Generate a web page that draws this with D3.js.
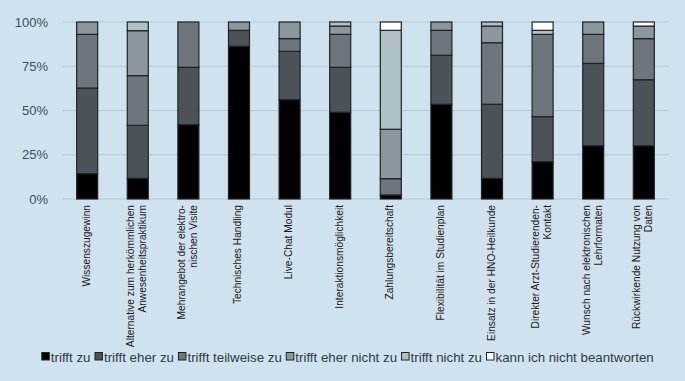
<!DOCTYPE html>
<html>
<head>
<meta charset="utf-8">
<script src="https://cdn.jsdelivr.net/npm/d3@7"></script>
<style>
  body { margin: 0; background: #d0e2ee; }
  svg { display: block; font-family: "Liberation Sans", Arial, sans-serif; }
</style>
</head>
<body>
<svg id="chart" width="685" height="381"></svg>
<script>
const categories = [
    ["Wissenszugewinn"],
    ["Alternative zum herkömmlichen", "Anwesenheitspraktikum"],
    ["Mehrangebot der elektro-", "nischen Visite"],
    ["Technisches Handling"],
    ["Live-Chat Modul"],
    ["Interaktionsmöglichkeit"],
    ["Zahlungsbereitschaft"],
    ["Flexibilität im Studienplan"],
    ["Einsatz in der HNO-Heilkunde"],
    ["Direkter Arzt-Studierenden-", "Kontakt"],
    ["Wunsch nach elektronischen", "Lehrformaten"],
    ["Rückwirkende Nutzung von", "Daten"]
];
const seriesNames = ["trifft zu", "trifft eher zu", "trifft teilweise zu", "trifft eher nicht zu", "trifft nicht zu", "kann ich nicht beantworten"];
const trifftZu      = [14.3, 11.7, 42.0, 86.3, 56.1, 49.0,  2.3, 53.5, 11.7, 21.1, 30.1, 30.1];
const eherZu        = [48.4, 29.9, 32.4,  9.0, 27.3, 25.4,  0.0, 27.7, 41.8, 25.4, 46.5, 37.3];
const teilweiseZu   = [30.3, 28.1, 25.6,  0.0,  7.2, 18.6,  9.2, 14.1, 34.8, 46.5, 16.4, 23.2];
const eherNichtZu   = [ 7.0, 25.4,  0.0,  4.7,  9.4,  4.7, 27.9,  4.7,  9.4,  0.0,  7.0,  7.1];
const nichtZu       = [ 0.0,  4.9,  0.0,  0.0,  0.0,  2.3, 55.9,  0.0,  2.3,  2.3,  0.0,  0.0];
const kannNicht     = [ 0.0,  0.0,  0.0,  0.0,  0.0,  0.0,  4.7,  0.0,  0.0,  4.7,  0.0,  2.3];
const yTicks = [0, 25, 50, 75, 100];

const colors = ["#000000", "#4b5258", "#6d767c", "#8b979e", "#b0c0c8", "#ffffff"];

const rows = categories.map((c, i) => ({
    key: i,
    label: c,
    s0: trifftZu[i], s1: eherZu[i], s2: teilweiseZu[i],
    s3: eherNichtZu[i], s4: nichtZu[i], s5: kannNicht[i]
}));
const keys = ["s0", "s1", "s2", "s3", "s4", "s5"];
const stacked = d3.stack().keys(keys)(rows);

const margin = { top: 22, right: 16, bottom: 182, left: 62 };
const width = 685 - margin.left - margin.right;
const height = 381 - margin.top - margin.bottom;

const svg = d3.select("#chart");
const g = svg.append("g").attr("transform", `translate(${margin.left},${margin.top})`);

const x = d3.scaleBand().domain(rows.map(d => d.key)).range([0, width]).paddingInner(0.585).paddingOuter(0.29);
const y = d3.scaleLinear().domain([0, 100]).range([height, 0]);

// gridlines
g.selectAll(".grid")
    .data(yTicks)
    .enter()
    .append("line")
    .attr("x1", 0)
    .attr("x2", width)
    .attr("y1", d => y(d))
    .attr("y2", d => y(d))
    .attr("stroke", "#b3c8da")
    .attr("stroke-width", 1);

// y labels
g.selectAll(".ylab")
    .data(yTicks)
    .enter()
    .append("text")
    .attr("x", -14)
    .attr("y", d => y(d))
    .attr("dy", "0.36em")
    .attr("text-anchor", "end")
    .style("font-size", "13px")
    .style("fill", "#3e4e60")
    .text(d => d + "%");

// bars
g.selectAll(".layer")
    .data(stacked)
    .enter()
    .append("g")
    .attr("fill", (d, i) => colors[i])
    .selectAll("rect")
    .data(d => d.filter(p => p[1] - p[0] > 0))
    .enter()
    .append("rect")
    .attr("x", d => x(d.data.key))
    .attr("y", d => y(d[1]))
    .attr("width", x.bandwidth())
    .attr("height", d => y(d[0]) - y(d[1]))
    .attr("stroke", "#1e2328")
    .attr("stroke-width", 1.2);

// x labels, rotated
const lineGap = 12;
rows.forEach(d => {
    const cx = x(d.key) + x.bandwidth() / 2;
    const n = d.label.length;
    d.label.forEach((line, j) => {
        const lx = cx + (j - (n - 1) / 2) * lineGap + 2.5;
        g.append("text")
            .attr("transform", `translate(${lx},${height + 6}) rotate(-90)`)
            .attr("text-anchor", "end")
            .style("font-size", "10.2px")
            .style("fill", "#1a1a1a")
            .text(line);
    });
});

// legend
const legend = svg.append("g").attr("transform", "translate(0,357)");
let lx = 0;
seriesNames.forEach((name, i) => {
    const item = legend.append("g").attr("transform", `translate(${lx},0)`);
    item.append("rect")
        .attr("x", 0.5)
        .attr("y", -4.5)
        .attr("width", 7.5)
        .attr("height", 7.5)
        .attr("fill", colors[i])
        .attr("stroke", "#1e2328")
        .attr("stroke-width", 1);
    const t = item.append("text")
        .attr("x", 9.5)
        .attr("y", 0)
        .attr("dy", "0.35em")
        .style("font-size", "13.3px")
        .style("fill", "#2f3a45")
        .text(name);
    lx += 9.5 + t.node().getComputedTextLength() + 4;
});
const totalW = lx - 4;
legend.attr("transform", `translate(${(685 - totalW) / 2 + 5},357)`);
</script>
</body>
</html>
